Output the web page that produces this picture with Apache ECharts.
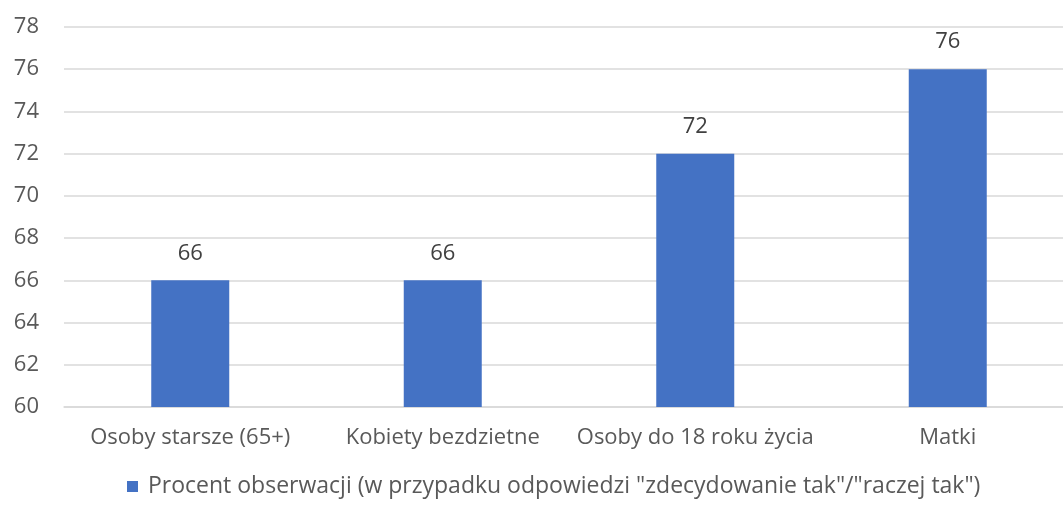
<!DOCTYPE html>
<html>
<head>
<meta charset="utf-8">
<script src="https://cdn.jsdelivr.net/npm/echarts@6/dist/echarts.min.js"></script>
<style>
  html, body { margin: 0; padding: 0; background: #fff; overflow: hidden; }
  #chart { width: 1074px; height: 505px; }
</style>
</head>
<body>
<div id="chart"></div>
<script>
// dane z wykresu
const categories = ['Osoby starsze (65+)', 'Kobiety bezdzietne', 'Osoby do 18 roku życia', 'Matki']
const values = [66, 66, 72, 76]
const seriesName = 'Procent obserwacji (w przypadku odpowiedzi "zdecydowanie tak"/"raczej tak")'

const font = '"Open Sans", "Noto Sans", sans-serif'
const chart = echarts.init(document.getElementById('chart'))
chart.setOption({
  animation: false,
  textStyle: { fontFamily: font },
  grid: { left: 64, right: 0, top: 27, bottom: 98 },
  legend: {
    bottom: 2,
    left: 122,
    icon: 'rect',
    itemWidth: 11,
    itemHeight: 11,
    itemGap: 4,
    textStyle: { color: '#595959', fontSize: 23, fontFamily: font, padding: [0, 0, 0, 5] },
    data: [seriesName]
  },
  xAxis: {
    type: 'category',
    data: categories,
    axisLine: { lineStyle: { color: '#d9d9d9', width: 1.5 } },
    axisTick: { show: false },
    axisLabel: { color: '#595959', fontSize: 22, margin: 20, interval: 0, fontFamily: font }
  },
  yAxis: {
    type: 'value',
    min: 60,
    max: 78,
    interval: 2,
    axisLine: { show: false },
    axisTick: { show: false },
    splitLine: { lineStyle: { color: '#d9d9d9', width: 1.5 } },
    axisLabel: { color: '#595959', fontSize: 22, margin: 25, fontFamily: font }
  },
  series: [{
    name: seriesName,
    type: 'bar',
    data: values,
    barWidth: 78,
    itemStyle: { color: '#4472c4' },
    label: {
      show: true,
      position: 'top',
      distance: 16,
      color: '#404040',
      fontSize: 22,
      fontFamily: font
    }
  }]
})
</script>
</body>
</html>
